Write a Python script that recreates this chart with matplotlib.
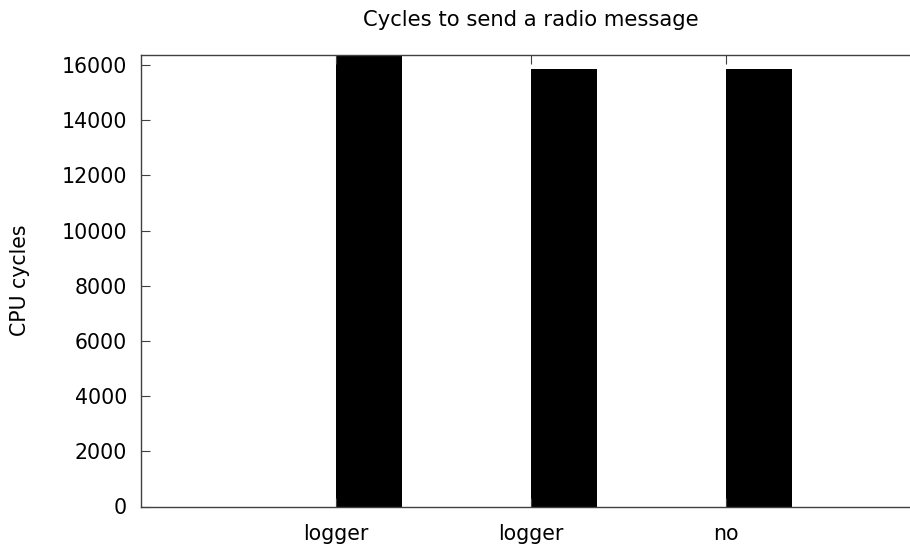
import matplotlib
matplotlib.use("Agg")
import matplotlib.pyplot as plt

# Send cost per logger configuration
configs = ["logger", "logger", "no"]
cycles = [16380, 15855, 15855]
yticks = [0, 2000, 4000, 6000, 8000, 10000, 12000, 14000, 16000]

W, H = 910, 545
fig = plt.figure(figsize=(W / 100, H / 100), dpi=100)
left, right = 141, 921
top, bottom = 54.5, 506.5
ax = fig.add_axes([left / W, 1 - bottom / H, (right - left) / W, (bottom - top) / H])

pos = list(range(len(configs)))
ax.bar(pos, cycles, width=0.34, align="edge", color="black", linewidth=0)

ax.set_xlim(-1, 3)
ax.set_ylim(0, max(cycles))
ax.set_xticks(pos)
ax.set_xticklabels(configs)
ax.set_yticks(yticks)

ax.tick_params(axis="both", direction="in", length=6.5, width=0.8, color="#404040",
               labelsize=14.8, top=True, right=True)
ax.tick_params(axis="x", pad=12.5)
ax.tick_params(axis="y", pad=10)
for s in ax.spines.values():
    s.set_color("#404040")
    s.set_linewidth(1.0)

fig.text(531 / W, 1 - 20 / H, "Cycles to send a radio message", ha="center", va="center",
         fontsize=15.2)
fig.text(20 / W, 1 - 280 / H, "CPU cycles", ha="center", va="center", rotation=90,
         fontsize=14.8)

fig.savefig("out.png", dpi=100)
